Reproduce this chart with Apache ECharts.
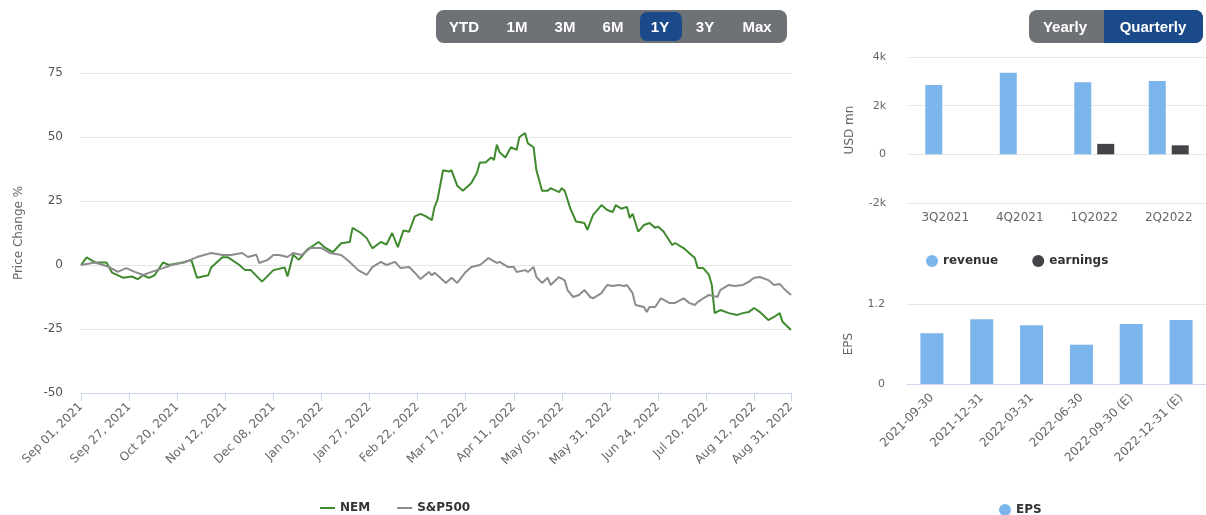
<!DOCTYPE html>
<html lang="en">
<head>
<meta charset="UTF-8">
<title>NEM</title>
<script src="https://cdn.jsdelivr.net/npm/echarts@6/dist/echarts.min.js"></script>
<style>
    *{
        padding:0;
        margin:0;
        box-sizing:border-box;
    }
    body{background:#fff;}
    #main{width:1206px;height:515px;}
</style>
</head>
<body>
<div id="main"></div>
<script>
// price change %, read at these trading days (0 = Sep 01, 2021, 251 = Aug 31, 2022)
var nemDays=[0,2,5,9,11,15,18,20,22,24,26,29,31,36,39,41,45,46,50,52,56,58,60,64,68,72,73,75,77,80,84,86,89,92,95,96,99,101,103,106,108,110,112,114,116,118,120,122,124,125,126,128,130,131,133,135,138,140,141,143,145,146,147,148,150,152,154,155,157,158,160,161,163,165,166,169,170,171,173,175,178,179,181,184,186,188,189,191,193,194,195,197,199,201,203,204,206,209,210,213,215,217,218,220,222,223,224,226,229,232,234,236,238,240,243,245,247,248,251]
var nemChange=[0,3,1,1,-3,-5,-4.5,-5.5,-4,-5,-4,1,0,1,2,-5,-4,-1,3,3,0,-2,-2,-6.5,-2,-1,-4.5,4,2,6,9,7,5,8.5,9,14.5,12.5,10.5,6.5,9,8,12.5,7,13.5,13,19,20,19,17.5,22.7,25.4,37,36.5,37,31,29,32,36,40,40,42,41,47,44,42,46,45,50,51.5,47.5,46,37,29,29,30,28.5,30,29,22,17,16.4,13.7,19.5,23.4,21.5,20.7,23.4,22,22.7,18.4,20,13,15.6,16.4,14.5,15,13,7.8,8.6,6.6,4.7,2.7,-1.2,-1.2,-3.9,-7.8,-18.8,-17.6,-18.8,-19.5,-18.8,-18.4,-16.8,-18.4,-21.5,-20.3,-18.8,-22.2,-25.4]
var spxDays=[0,5,10,13,16,19,22,25,29,32,37,41,46,50,53,57,59,62,63,66,68,70,73,75,78,81,85,88,92,95,98,101,103,106,108,111,113,116,118,120,123,124,125,127,129,131,133,136,138,141,142,144,147,148,151,153,154,157,158,160,161,163,165,166,169,171,172,174,176,178,180,181,184,186,188,190,192,193,195,196,199,200,201,203,205,208,210,213,215,217,218,220,222,225,226,229,231,234,236,238,240,243,245,247,249,251]
var spxChange=[0,1,-0.8,-2.7,-1.2,-2.7,-3.9,-2.7,-1.2,0,1.2,3.1,4.7,3.9,3.9,4.7,3.1,4,0.8,2,3.9,3.9,3.1,4.7,3.9,6.6,6.6,4.7,3.9,1.2,-2,-3.9,-0.8,1.2,0,1.2,-1.2,-0.8,-3,-5.5,-2.7,-4,-3,-5,-7,-5,-7,-2.7,-0.8,0,0.8,2.7,0.8,1.2,-0.8,-0.8,-2.7,-2,-2.7,-0.8,-4.7,-7,-5,-7.8,-4.7,-6,-9.8,-12.5,-11.7,-9.8,-12.5,-13,-11,-7.8,-8.2,-7.8,-8.2,-7.8,-11,-15.6,-16.4,-18.4,-16.4,-16.4,-13,-14.8,-14.8,-13,-14.8,-15.6,-14.5,-13,-11.7,-12.5,-9.8,-7.8,-8.2,-7.8,-6.6,-5,-4.7,-5.9,-7.8,-7.4,-9.8,-11.7]
var holidays=["2021-09-06","2021-11-25","2021-12-24","2022-01-17","2022-02-21","2022-04-15","2022-05-30","2022-06-20","2022-07-04"]

var ranges=["YTD","1M","3M","6M","1Y","3Y","Max"]
var quarters=["3Q2021","4Q2021","1Q2022","2Q2022"]
var revenue=[2850,3350,2960,3010]
var earnings=[0,0,430,370]
var epsDates=["2021-09-30","2021-12-31","2022-03-31","2022-06-30","2022-09-30 (E)","2022-12-31 (E)"]
var eps=[0.76,0.97,0.88,0.59,0.9,0.96]

// trading days Sep 01, 2021 .. Aug 31, 2022
var days=[]
var d=new Date(Date.UTC(2021,8,1))
while(d.getTime()<=Date.UTC(2022,7,31)){
    var s=d.toISOString().slice(0,10), w=d.getUTCDay()
    if(w!==0&&w!==6&&holidays.indexOf(s)<0) days.push(s)
    d.setUTCDate(d.getUTCDate()+1)
}
var months=["Jan","Feb","Mar","Apr","May","Jun","Jul","Aug","Sep","Oct","Nov","Dec"]
function dayLabel(s){
    return months[+s.slice(5,7)-1]+" "+s.slice(8,10)+", "+s.slice(0,4)
}
function showDay(i){ return i%17===0||i===days.length-1 }

var font="DejaVu Sans"
var grey="#666666"

// range buttons + yearly/quarterly switch
var btnFont="bold 15px 'Liberation Sans'"
var graphics=[{type:"rect",shape:{x:436,y:10,width:351,height:33,r:8},style:{fill:"#6e7176"}},
    {type:"rect",shape:{x:640,y:12,width:42,height:29,r:7},style:{fill:"#1b4a8a"}}]
var btnX=[464,517,565,613,660,705,757]
ranges.forEach(function(t,i){
    graphics.push({type:"text",style:{text:t,x:btnX[i],y:28,fill:"#fff",font:btnFont,textAlign:"center",textVerticalAlign:"middle",align:"center",verticalAlign:"middle"}})
})
graphics.push({type:"rect",shape:{x:1029,y:10,width:174,height:33,r:8},style:{fill:"#6e7176"}})
graphics.push({type:"rect",shape:{x:1104,y:10,width:99,height:33,r:[0,8,8,0]},style:{fill:"#1b4a8a"}})
graphics.push({type:"text",style:{text:"Yearly",x:1065,y:28,fill:"#fff",font:btnFont,textAlign:"center",textVerticalAlign:"middle",align:"center",verticalAlign:"middle"}})
graphics.push({type:"text",style:{text:"Quarterly",x:1153,y:28,fill:"#fff",font:btnFont,textAlign:"center",textVerticalAlign:"middle",align:"center",verticalAlign:"middle"}})

var legendText={color:"#333",fontWeight:"bold",fontSize:12,fontFamily:font}

var myChart=echarts.init(document.getElementById("main"))
var option={
    animation:false,
    textStyle:{fontFamily:font},
    graphic:graphics,
    grid:[
        {left:81,right:415,top:73,bottom:122},
        {left:908,right:0,top:57,bottom:312},
        {left:907,right:0,top:304,bottom:131}
    ],
    legend:[
        {
            data:["NEM","S&P500"],
            left:315,top:497,
            icon:"rect",itemWidth:15,itemHeight:2,itemGap:27,
            textStyle:legendText
        },
        {
            data:["revenue","earnings"],
            left:921,top:250,
            icon:"circle",itemWidth:12,itemHeight:12,itemGap:34,
            textStyle:legendText
        },
        {
            data:["EPS"],
            left:994,top:499,
            icon:"circle",itemWidth:12,itemHeight:12,
            textStyle:legendText
        }
    ],
    xAxis:[
        {
            gridIndex:0,type:"category",data:days,boundaryGap:false,
            axisLine:{onZero:false,lineStyle:{color:"#ccd6eb"}},
            axisTick:{interval:showDay,length:8,lineStyle:{color:"#ccd6eb"}},
            axisLabel:{interval:showDay,rotate:45,color:grey,fontSize:12,margin:12,formatter:dayLabel}
        },
        {
            gridIndex:1,type:"category",data:quarters,
            axisLine:{onZero:false,lineStyle:{color:"#e6e6e6"}},
            axisTick:{show:false},
            axisLabel:{color:grey,fontSize:12,margin:9}
        },
        {
            gridIndex:2,type:"category",data:epsDates,
            axisLine:{onZero:false,lineStyle:{color:"#ccd6eb"}},
            axisTick:{show:false},
            axisLabel:{rotate:45,color:grey,fontSize:12,margin:12,interval:0}
        }
    ],
    yAxis:[
        {
            gridIndex:0,type:"value",min:-50,max:75,interval:25,
            name:"Price Change %",nameLocation:"middle",nameGap:56,
            nameTextStyle:{color:grey,fontSize:12},
            axisLabel:{color:"#555",fontSize:12,margin:18},
            splitLine:{lineStyle:{color:"#e6e6e6"}}
        },
        {
            gridIndex:1,type:"value",min:-2000,max:4000,interval:2000,
            name:"USD mn",nameLocation:"middle",nameGap:52,
            nameTextStyle:{color:grey,fontSize:12},
            axisLabel:{color:grey,fontSize:11,margin:22,formatter:function(v){return v===0?"0":(v/1000)+"k"}},
            splitLine:{lineStyle:{color:"#e6e6e6"}}
        },
        {
            gridIndex:2,type:"value",min:0,max:1.2,interval:1.2,
            name:"EPS",nameLocation:"middle",nameGap:52,
            nameTextStyle:{color:grey,fontSize:12},
            axisLabel:{color:grey,fontSize:11,margin:22},
            splitLine:{lineStyle:{color:"#e6e6e6"}}
        }
    ],
    series:[
        {
            name:"NEM",type:"line",xAxisIndex:0,yAxisIndex:0,
            data:nemDays.map(function(k,i){return [k,nemChange[i]]}),
            showSymbol:false,color:"#3f8a2e",
            lineStyle:{width:2,color:"#3f8a2e"}
        },
        {
            name:"S&P500",type:"line",xAxisIndex:0,yAxisIndex:0,
            data:spxDays.map(function(k,i){return [k,spxChange[i]]}),
            showSymbol:false,color:"#8c8c8c",
            lineStyle:{width:2,color:"#8c8c8c"}
        },
        {
            name:"revenue",type:"bar",xAxisIndex:1,yAxisIndex:1,
            data:revenue,barWidth:17,barGap:"35%",
            itemStyle:{color:"#7cb5ec"}
        },
        {
            name:"earnings",type:"bar",xAxisIndex:1,yAxisIndex:1,
            data:earnings,barWidth:17,
            itemStyle:{color:"#434348"}
        },
        {
            name:"EPS",type:"bar",xAxisIndex:2,yAxisIndex:2,
            data:eps,barWidth:23,
            itemStyle:{color:"#7cb5ec"}
        }
    ]
}
myChart.setOption(option)
window.onresize=myChart.resize
</script>
</body>
</html>
